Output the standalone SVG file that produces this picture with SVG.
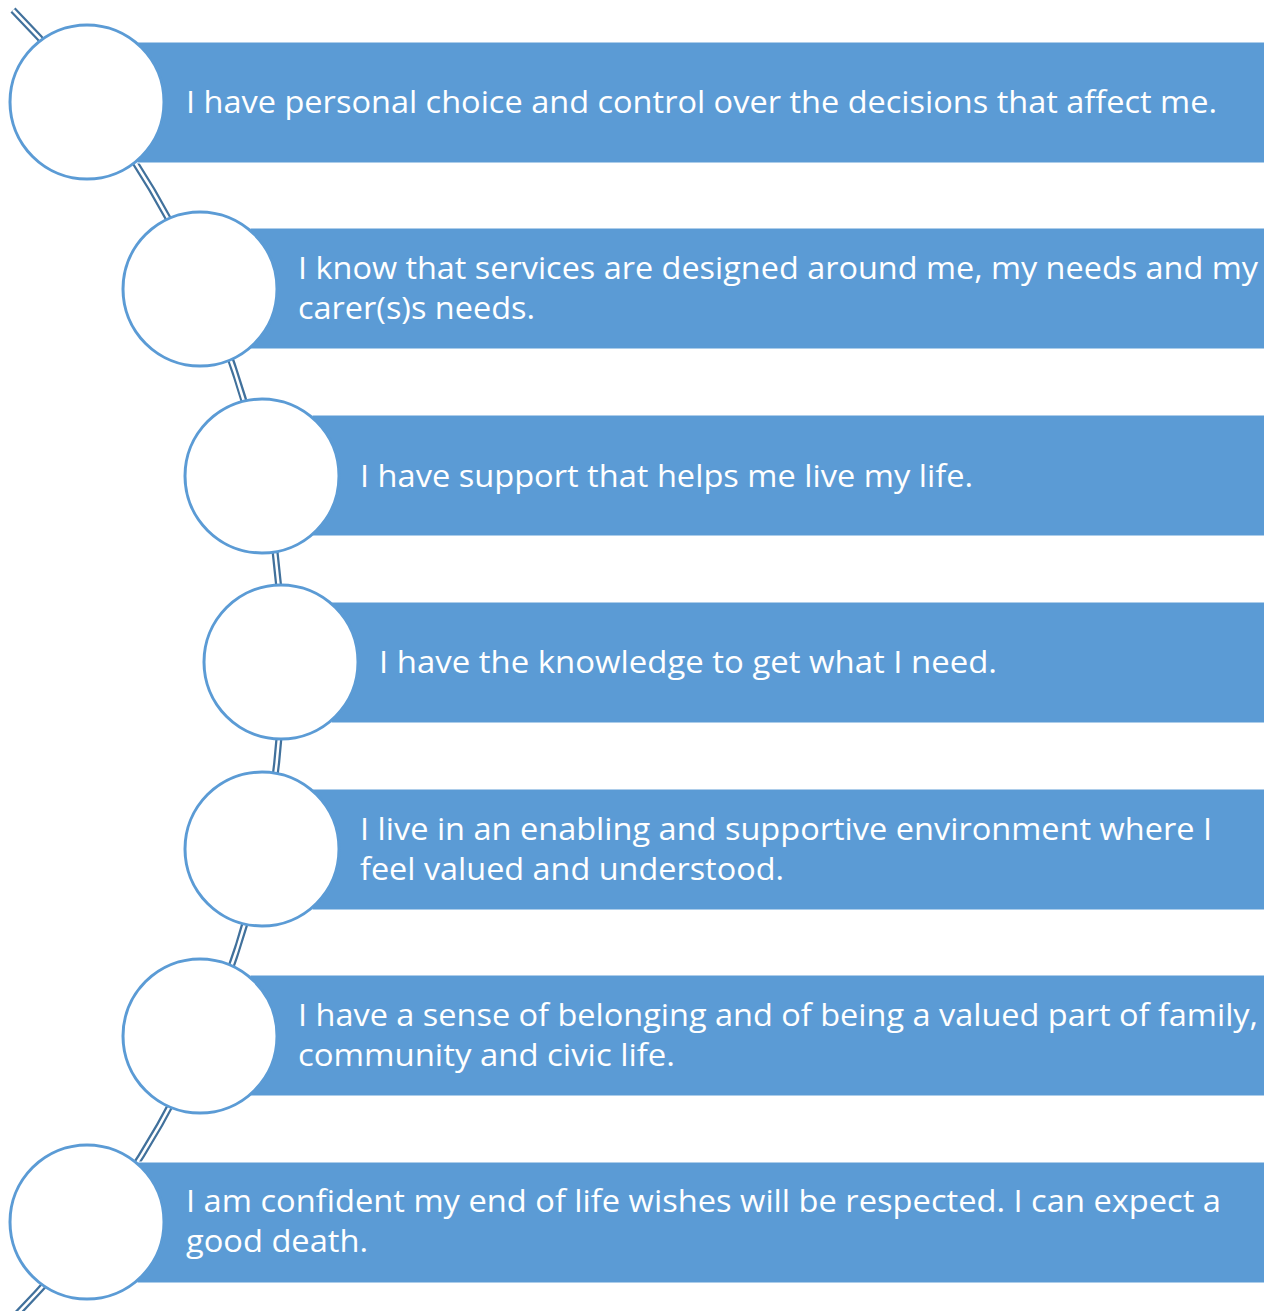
<svg xmlns="http://www.w3.org/2000/svg" width="1264" height="1311" viewBox="0 0 1264 1311">
<style>
.bar{fill:#5B9BD5;stroke:#FFFFFF;stroke-width:1}
.dot{fill:#FFFFFF;stroke:#5B9BD5;stroke-width:3}
.t{font-family:"Open Sans","Liberation Sans",sans-serif;font-size:31px;fill:#FFFFFF}
.arcO{fill:none;stroke:#41719C;stroke-width:7}
.arcI{fill:none;stroke:#FFFFFF;stroke-width:2.5}
</style>
<rect width="1264" height="1311" fill="#FFFFFF"/>
<g id="connectors">
<path class="arcO" d="M 13 10 A 930 930 0 0 1 16 1315"/>
<path class="arcI" d="M 13 10 A 930 930 0 0 1 16 1315"/>
</g>
<g id="node1">
<rect class="bar" x="137" y="42" width="1130" height="121"/>
<circle class="dot" cx="87" cy="102" r="77"/>
<text class="t" x="186" y="113" textLength="1031" lengthAdjust="spacingAndGlyphs">I have personal choice and control over the decisions that affect me.</text>
</g>
<g id="node2">
<rect class="bar" x="250" y="228" width="1017" height="121"/>
<circle class="dot" cx="200" cy="289" r="77"/>
<text class="t" x="298" y="279" textLength="960" lengthAdjust="spacingAndGlyphs">I know that services are designed around me, my needs and my</text>
<text class="t" x="298" y="319" textLength="237" lengthAdjust="spacingAndGlyphs">carer(s)s needs.</text>
</g>
<g id="node3">
<rect class="bar" x="312" y="415" width="955" height="121"/>
<circle class="dot" cx="262" cy="476" r="77"/>
<text class="t" x="360" y="487" textLength="613" lengthAdjust="spacingAndGlyphs">I have support that helps me live my life.</text>
</g>
<g id="node4">
<rect class="bar" x="331" y="602" width="936" height="121"/>
<circle class="dot" cx="281" cy="662" r="77"/>
<text class="t" x="379" y="673" textLength="618" lengthAdjust="spacingAndGlyphs">I have the knowledge to get what I need.</text>
</g>
<g id="node5">
<rect class="bar" x="312" y="789" width="955" height="121"/>
<circle class="dot" cx="262" cy="849" r="77"/>
<text class="t" x="360" y="840" textLength="852" lengthAdjust="spacingAndGlyphs">I live in an enabling and supportive environment where I</text>
<text class="t" x="360" y="880" textLength="424" lengthAdjust="spacingAndGlyphs">feel valued and understood.</text>
</g>
<g id="node6">
<rect class="bar" x="250" y="975" width="1017" height="121"/>
<circle class="dot" cx="200" cy="1036" r="77"/>
<text class="t" x="298" y="1026" textLength="960" lengthAdjust="spacingAndGlyphs">I have a sense of belonging and of being a valued part of family,</text>
<text class="t" x="298" y="1066" textLength="377" lengthAdjust="spacingAndGlyphs">community and civic life.</text>
</g>
<g id="node7">
<rect class="bar" x="137" y="1162" width="1130" height="121"/>
<circle class="dot" cx="87" cy="1222" r="77"/>
<text class="t" x="186" y="1212" textLength="1035" lengthAdjust="spacingAndGlyphs">I am confident my end of life wishes will be respected. I can expect a</text>
<text class="t" x="186" y="1252" textLength="182" lengthAdjust="spacingAndGlyphs">good death.</text>
</g>
</svg>
